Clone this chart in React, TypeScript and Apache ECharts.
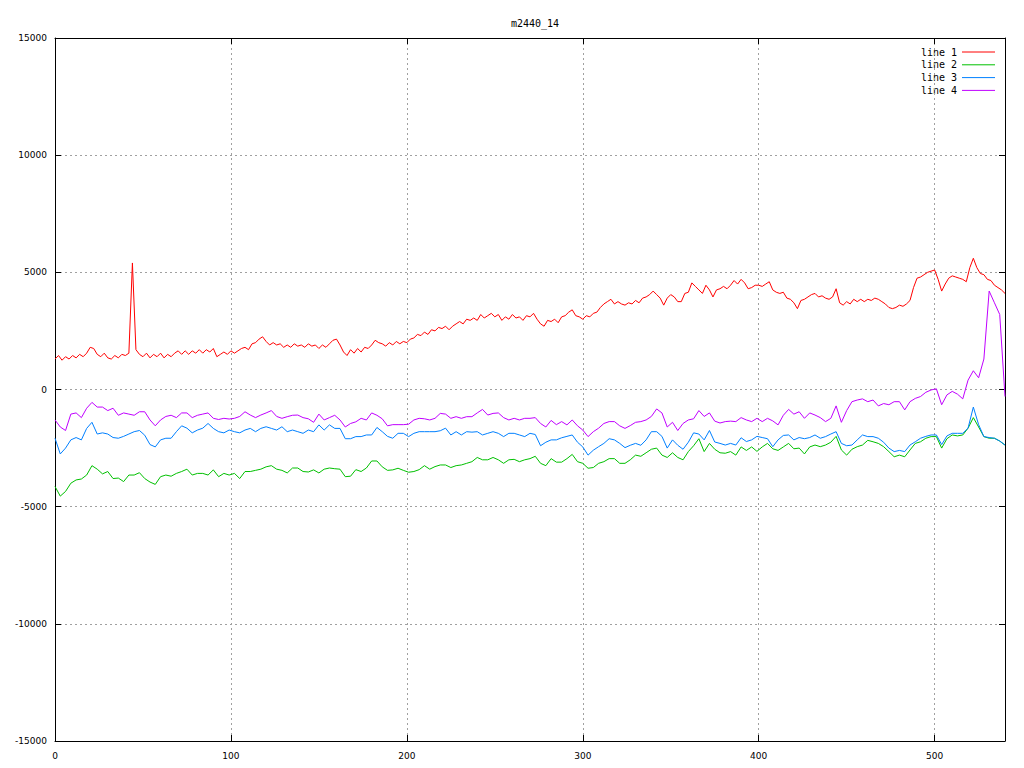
import React, { useEffect, useRef } from "react";
import * as echarts from "echarts";

const TITLE = "m2440_14";
const SERIES_NAMES = ["line 1", "line 2", "line 3", "line 4"];
const SERIES_COLORS = ["#ff0000", "#00c000", "#0080ff", "#c000ff"];

const X_MAX = 540;
const X_TICKS = [0, 100, 200, 300, 400, 500];
const Y_MIN = -15000;
const Y_MAX = 15000;
const Y_STEP = 5000;

// line 1 sampled every 2 units of x
const LINE1_STEP = 2;
const line1: number[] = [
  1300, 1450, 1250, 1400, 1300, 1450, 1350, 1500, 1400, 1550,
  1800, 1750, 1500, 1400, 1550, 1350, 1300, 1450, 1350, 1500,
  1450, 1550, 5400, 1700, 1500, 1400, 1550, 1350, 1500, 1400,
  1550, 1350, 1500, 1400, 1550, 1650, 1500, 1650, 1500, 1650,
  1550, 1700, 1550, 1700, 1600, 1750, 1400, 1500, 1600, 1500,
  1650, 1550, 1650, 1750,
  1800, 1700, 1950, 2000, 2150, 2250, 2050, 1900, 2000, 1900,
  1950, 1800, 1900, 1800, 1950, 1850, 1900, 1800, 1950, 1850,
  1900, 1750, 1900, 1800, 1950, 2100, 2150, 1900, 1600, 1450,
  1700, 1550, 1750, 1600, 1800, 1750, 1900, 2100, 2000, 1950,
  1850, 2000, 1900, 2050, 1950, 2050, 2000, 2150, 2200, 2350,
  2300, 2450, 2350, 2550,
  2500, 2650, 2600, 2700, 2550, 2700, 2800, 2900, 2800, 3000,
  2950, 3050, 2950, 3200, 3050, 3150, 3250, 3100, 3200, 2950,
  3100, 3000, 3200, 3050, 3100, 2950, 3150, 3100, 3250, 3000,
  2800, 2700, 2950, 2900, 3000, 2850, 3100, 3150, 3300, 3400,
  3150, 3100, 3000, 3150, 3100, 3250, 3300, 3500, 3650, 3750,
  3850, 3650, 3750, 3650,
  3600, 3700, 3650, 3800, 3700, 3900, 3950, 4050, 4200, 4050,
  3900, 3600, 3900, 4050, 3950, 3750, 3750, 4100, 4150, 4550,
  4400, 4250, 4100, 4450, 4250, 3950, 4250, 4300, 4400, 4300,
  4450, 4650, 4500, 4700, 4550, 4300, 4350, 4450, 4450, 4400,
  4500, 4600, 4250, 4150, 4100, 4150, 3900, 3850, 3700, 3450,
  3800, 3850, 3950, 4050,
  4100, 3950, 4000, 3900, 3850, 3950, 4300, 3700, 3600, 3750,
  3650, 3850, 3750, 3850, 3750, 3850, 3800, 3900, 3850, 3750,
  3650, 3500, 3450, 3500, 3600, 3550, 3650, 3800, 4350, 4750,
  4800, 4900, 5000, 5050, 5100, 4700, 4200, 4500, 4750, 4850,
  4800, 4750, 4700, 4600, 5200, 5600, 5200, 4950, 4900, 4700,
  4650, 4450, 4350, 4250, 4100,
];

// lines 2-4 sampled every 3 units of x
const OTHER_STEP = 3;
const line2: number[] = [
  -4140, -4550, -4350, -4000, -3860, -3820, -3650, -3250, -3400, -3600,
  -3500, -3800, -3780, -3930, -3650, -3650, -3550, -3800, -3950, -4050,
  -3720, -3650, -3700, -3580, -3500, -3400, -3650, -3580, -3580, -3650,
  -3430, -3720, -3580, -3650, -3580, -3800,
  -3500, -3500, -3450, -3400, -3300, -3250, -3400, -3450, -3560, -3350,
  -3350, -3500, -3520, -3430, -3560, -3400, -3350, -3380, -3400, -3720,
  -3700, -3420, -3500, -3350, -3050, -3050, -3300, -3450, -3430, -3360,
  -3450, -3530, -3500, -3420, -3250, -3400,
  -3290, -3220, -3220, -3330, -3250, -3220, -3150, -3080, -2900, -3000,
  -3000, -2900, -3000, -3150, -3000, -2980, -3080, -3000, -2950, -2850,
  -3150, -3250, -2950, -3100, -3100, -2950, -2770, -3080, -3150, -3360,
  -3330, -3150, -3080, -2950, -2950, -3150,
  -3150, -3000, -2800, -2850, -2700, -2550, -2500, -2800, -2900, -2700,
  -2900, -3000, -2650, -2400, -2100, -2650, -2300, -2550, -2700, -2720,
  -2650, -2800, -2450, -2600, -2450, -2640, -2450, -2300, -2530, -2600,
  -2450, -2300, -2530, -2500, -2750, -2450,
  -2370, -2440, -2370, -2250, -2000, -2580, -2800, -2550, -2440, -2370,
  -2170, -2230, -2300, -2440, -2650, -2870, -2800, -2870, -2580, -2300,
  -2230, -2080, -2010, -2010, -2500, -2100, -1940, -1980, -1940, -1650,
  -1200, -1600, -2010, -2080, -2080, -2200, -2370,
];

const line3: number[] = [
  -2080, -2750, -2500, -2150, -2050, -2150, -1660, -1400, -1900, -1850,
  -1900, -2050, -2080, -2000, -1900, -1800, -1750, -1950, -2350, -2450,
  -2150, -2080, -2080, -1800, -1550, -1650, -1850, -1730, -1650, -1450,
  -1660, -1800, -1850, -1730, -1800, -1850,
  -1730, -1660, -1800, -1660, -1590, -1660, -1730, -1590, -1800, -1730,
  -1800, -1870, -1730, -1800, -1510, -1730, -1510, -1660, -1660, -2100,
  -2100, -2010, -2010, -1940, -1940, -1620, -1800, -2000, -2080, -1870,
  -1870, -2010, -1870, -1800, -1800, -1800,
  -1800, -1760, -1650, -1940, -1800, -1940, -1800, -1820, -1800, -1940,
  -1870, -1800, -1870, -2010, -1870, -1870, -1940, -2010, -1870, -1920,
  -2400, -2250, -2150, -2150, -2060, -2000, -1940, -2250, -2450, -2800,
  -2590, -2440, -2300, -2100, -2150, -2300,
  -2480, -2380, -2300, -2380, -2150, -1800, -1800, -2000, -2500, -2150,
  -2380, -2550, -2250, -1850, -1900, -2150, -1750, -2240, -2300, -2370,
  -2300, -2370, -2060, -2220, -2150, -2000, -2050, -2100, -2440, -2150,
  -1960, -1940, -2150, -2050, -2100, -2050,
  -1940, -2080, -2010, -1900, -1800, -2300, -2400, -2370, -2150, -1940,
  -2010, -2010, -2080, -2250, -2500, -2650, -2600, -2650, -2370, -2230,
  -2080, -2000, -1940, -1940, -2350, -1980, -1870, -1870, -1870, -1650,
  -750, -1500, -2010, -2050, -2080, -2200, -2370,
];

const line4: number[] = [
  -1300, -1600, -1750, -1050, -1000, -1200, -800, -550, -750, -750,
  -900, -800, -1100, -1000, -1050, -1100, -950, -950, -1300, -1550,
  -1300, -1150, -1100, -1200, -1000, -1000, -1200, -1100, -1050, -1000,
  -1230, -1280, -1230, -1260, -1230, -1150,
  -950, -1090, -1200, -1090, -1000, -900, -1150, -1230, -1160, -1100,
  -1090, -1200, -1250, -1400, -1050, -1300, -1200, -1100, -1300, -1600,
  -1450, -1380, -1230, -1300, -1000, -1100, -1250, -1550, -1500, -1500,
  -1500, -1480, -1300, -1230, -1250, -1300,
  -1230, -1020, -1050, -1230, -1160, -1230, -1160, -1160, -1000, -850,
  -1090, -1020, -1000, -1200, -1300, -1230, -1300, -1230, -1230, -1200,
  -1450, -1600, -1320, -1500, -1370, -1510, -1300, -1550, -1730, -2010,
  -1800, -1650, -1450, -1370, -1370, -1550,
  -1660, -1540, -1400, -1370, -1300, -1150, -830, -1000, -1600, -1400,
  -1750, -1450, -1300, -1250, -900, -1150, -1000, -1350, -1430, -1370,
  -1350, -1370, -1200, -1300, -1370, -1230, -1370, -1230, -1340, -1510,
  -1100, -850, -1050, -950, -1230, -1000,
  -1090, -1200, -1370, -1230, -700, -1400, -900, -520, -450, -400,
  -520, -450, -700, -600, -650, -520, -520, -870, -520, -380,
  -300, -120, -20, 30, -650, -230, -80, -200, -400, 400,
  800, 500, 1300, 4200, 3700, 3200, -300,
];

const SERIES_VALUES = [line1, line2, line3, line4];
const SERIES_STEPS = [LINE1_STEP, OTHER_STEP, OTHER_STEP, OTHER_STEP];

const TICK_FONT = "DejaVu Sans";
const MONO_FONT = "DejaVu Sans Mono";

export default function App() {
  const ref = useRef<HTMLDivElement>(null);

  useEffect(() => {
    if (!ref.current) return;
    const chart = echarts.init(ref.current, undefined, { renderer: "svg" });

    const gridLeft = 55;
    const gridTop = 38;
    const gridRight = 19;
    const gridBottom = 27;

    const splitLineStyle = { color: "#a0a0a0", type: [2, 3] as number[], width: 1 };
    const axisLineStyle = { color: "#000", width: 1 };
    const tickStyle = { show: true, inside: true, length: 6, lineStyle: axisLineStyle };

    const legendGraphics: any[] = [];
    SERIES_NAMES.forEach((name, i) => {
      const y = 52 + 12.8 * i;
      legendGraphics.push({
        type: "text",
        x: 957,
        y,
        style: {
          text: name,
          fill: "#000",
          font: `10px "${MONO_FONT}"`,
          textAlign: "right",
          textVerticalAlign: "middle",
        },
        silent: true,
      });
      legendGraphics.push({
        type: "line",
        shape: { x1: 962, y1: y, x2: 995, y2: y },
        style: { stroke: SERIES_COLORS[i], lineWidth: 1 },
        silent: true,
      });
    });

    const option: any = {
      animation: false,
      backgroundColor: "#fff",
      title: {
        text: TITLE,
        left: 530,
        top: 13,
        textAlign: "center",
        textStyle: {
          fontFamily: MONO_FONT,
          fontSize: 10,
          fontWeight: "normal",
          color: "#000",
        },
      },
      grid: { left: gridLeft, top: gridTop, right: gridRight, bottom: gridBottom, containLabel: false },
      xAxis: [
        {
          type: "value",
          min: 0,
          max: X_MAX,
          interval: 100,
          position: "bottom",
          axisLine: { show: true, onZero: false, lineStyle: axisLineStyle },
          axisTick: tickStyle,
          axisLabel: {
            show: true,
            margin: 10,
            color: "#000",
            fontFamily: TICK_FONT,
            fontSize: 9,
            showMaxLabel: false,
            formatter: (v: number) => (X_TICKS.includes(v) ? String(v) : ""),
          },
          splitLine: { show: true, lineStyle: splitLineStyle },
        },
        {
          type: "value",
          min: 0,
          max: X_MAX,
          interval: 100,
          position: "top",
          axisLine: { show: true, onZero: false, lineStyle: axisLineStyle },
          axisTick: tickStyle,
          axisLabel: { show: false },
          splitLine: { show: false },
        },
      ],
      yAxis: [
        {
          type: "value",
          min: Y_MIN,
          max: Y_MAX,
          interval: Y_STEP,
          position: "left",
          axisLine: { show: true, onZero: false, lineStyle: axisLineStyle },
          axisTick: tickStyle,
          axisLabel: {
            show: true,
            margin: 8,
            color: "#000",
            fontFamily: TICK_FONT,
            fontSize: 9,
            formatter: (v: number) => String(v),
          },
          splitLine: { show: true, lineStyle: splitLineStyle },
        },
        {
          type: "value",
          min: Y_MIN,
          max: Y_MAX,
          interval: Y_STEP,
          position: "right",
          axisLine: { show: true, onZero: false, lineStyle: axisLineStyle },
          axisTick: tickStyle,
          axisLabel: { show: false },
          splitLine: { show: false },
        },
      ],
      series: SERIES_VALUES.map((vals, i) => ({
        name: SERIES_NAMES[i],
        type: "line",
        xAxisIndex: 0,
        yAxisIndex: 0,
        showSymbol: false,
        symbol: "none",
        silent: true,
        z: 2 + i,
        lineStyle: { color: SERIES_COLORS[i], width: 1 },
        itemStyle: { color: SERIES_COLORS[i] },
        data: vals.map((v, j) => [j * SERIES_STEPS[i], v]),
      })),
      graphic: legendGraphics,
    };

    chart.setOption(option);
    return () => chart.dispose();
  }, []);

  return (
    <div
      ref={ref}
      style={{ position: "absolute", left: 0, top: 0, width: 1024, height: 768, background: "#fff" }}
    />
  );
}
